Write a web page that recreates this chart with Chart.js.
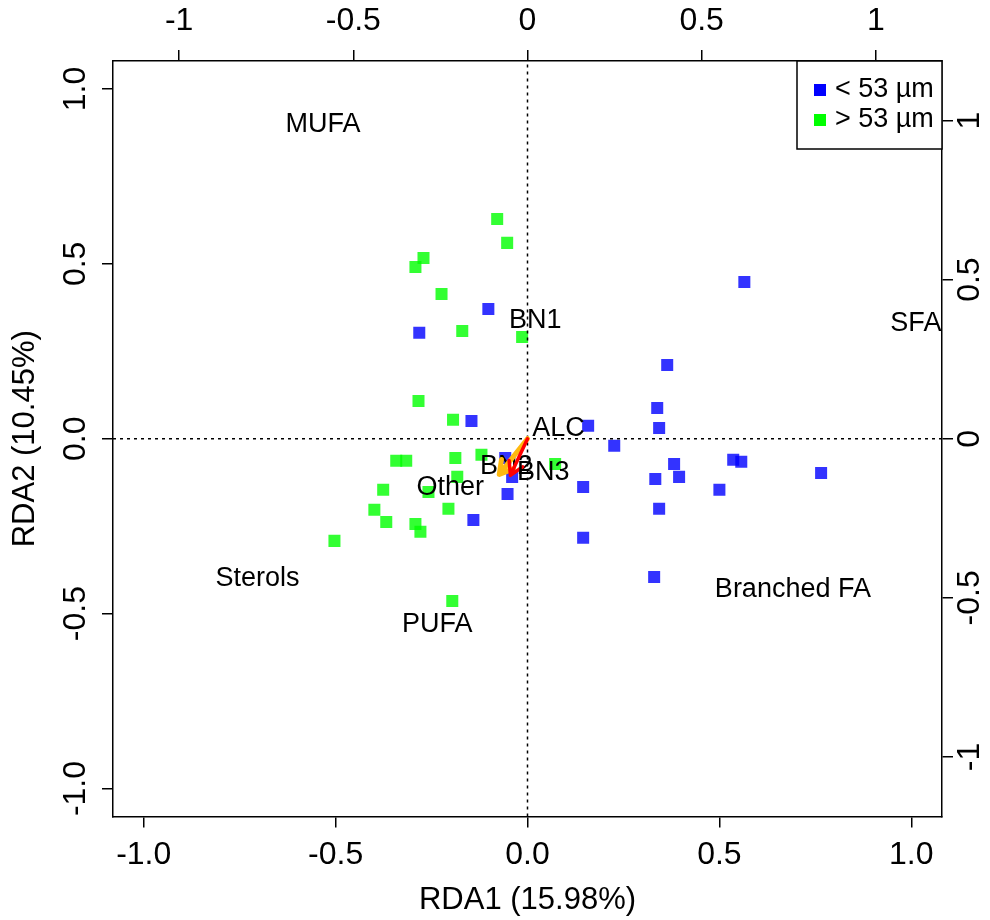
<!DOCTYPE html>
<html lang="en">
<head>
<meta charset="UTF-8">
<title>RDA biplot</title>
<script src="https://cdn.jsdelivr.net/npm/chart.js"></script>
<style>
  body { margin: 0; background: #fff; }
  #wrap { width: 990px; height: 920px; }
</style>
</head>
<body>
<div id="wrap"><canvas id="rdaChart" width="990" height="920"></canvas></div>
<script>
// site scores, < 53 µm fraction (bottom/left axis units)
const smallX = [-0.102, -0.282, -0.146, -0.058, -0.040, -0.052, -0.141, 0.565, 0.364, 0.338, 0.343, 0.158,
                0.226, 0.382, 0.333, 0.395, 0.536, 0.557, 0.765, 0.500, 0.145, 0.343, 0.145, 0.330];
const smallY = [0.371, 0.303, 0.051, -0.055, -0.109, -0.158, -0.232, 0.448, 0.211, 0.088, 0.031, 0.037,
                -0.020, -0.072, -0.115, -0.109, -0.060, -0.066, -0.098, -0.146, -0.138, -0.200, -0.283, -0.395];

// site scores, > 53 µm fraction
const largeX = [-0.079, -0.053, -0.271, -0.292, -0.224, -0.170, -0.014, -0.284, -0.194, -0.342, -0.316, -0.188,
                -0.120, -0.183, 0.072, -0.258, -0.376, -0.399, -0.206, -0.368, -0.292, -0.279, -0.503, -0.196];
const largeY = [0.628, 0.560, 0.517, 0.491, 0.414, 0.308, 0.291, 0.108, 0.054, -0.063, -0.063, -0.055,
                -0.046, -0.109, -0.072, -0.152, -0.146, -0.203, -0.200, -0.238, -0.244, -0.266, -0.292, -0.464];

const groupNames = ['< 53 µm', '> 53 µm'];

// variable labels (top/right axis units)
const varNames = ['MUFA', 'SFA', 'BN1', 'ALC', 'BN2', 'BN3', 'Other', 'Sterols', 'PUFA', 'Branched FA'];
const varX = [-0.587, 1.115, 0.022, 0.089, -0.061, 0.045, -0.222, -0.775, -0.259, 0.762];
const varY = [0.987, 0.363, 0.372, 0.033, -0.087, -0.106, -0.153, -0.440, -0.583, -0.473];

// fitted vectors drawn as arrows from the origin (top/right axis units)
const arrowX = [-0.081, -0.049];
const arrowY = [-0.112, -0.115];

// axis ticks
const ticksBottom = [-1.0, -0.5, 0.0, 0.5, 1.0];
const ticksBottomLabels = ['-1.0', '-0.5', '0.0', '0.5', '1.0'];
const ticksLeft = [-1.0, -0.5, 0.0, 0.5, 1.0];
const ticksLeftLabels = ['-1.0', '-0.5', '0.0', '0.5', '1.0'];
const ticksTop = [-1, -0.5, 0, 0.5, 1];
const ticksTopLabels = ['-1', '-0.5', '0', '0.5', '1'];
const ticksRight = [-1, -0.5, 0, 0.5, 1];
const ticksRightLabels = ['-1', '-0.5', '0', '0.5', '1'];

const xTitle = 'RDA1 (15.98%)';
const yTitle = 'RDA2 (10.45%)';

const FAMILY = '"Liberation Sans", Arial, sans-serif';
const FONT = '27px ' + FAMILY;
const AXIS_FONT = '32px ' + FAMILY;
const TITLE_FONT = '31px ' + FAMILY;
const groupColors = ['rgba(0,0,255,0.8)', 'rgba(0,255,0,0.8)'];
const legendColors = ['#0000ff', '#00ff00'];
const arrowColors = ['#ffb90f', '#ff0000'];
const arrowWidths = [5, 3.5];

function toPoints(xs, ys) {
    return xs.map((x, i) => ({ x: x, y: ys[i] }));
}

function axis(pos, min, max, vals, size) {
    return {
        type: 'linear',
        position: pos,
        axis: (pos === 'top' || pos === 'bottom') ? 'x' : 'y',
        min: min,
        max: max,
        afterBuildTicks: s => { s.ticks = vals.map(v => ({ value: v })); },
        afterFit: s => {
            if (pos === 'top' || pos === 'bottom') s.height = size; else s.width = size;
        },
        ticks: { display: false },
        grid: { display: true, drawOnChartArea: false, drawTicks: true, tickLength: 11, color: '#000', lineWidth: 1.5 },
        border: { display: true, color: '#000', width: 1.5 }
    };
}

function drawArrow(ctx, x0, y0, x1, y1, color, width) {
    const ang = Math.atan2(y1 - y0, x1 - x0);
    const head = 15;
    ctx.save();
    ctx.strokeStyle = color;
    ctx.lineWidth = width;
    ctx.lineCap = 'round';
    ctx.lineJoin = 'round';
    ctx.beginPath();
    ctx.moveTo(x0, y0);
    ctx.lineTo(x1, y1);
    ctx.moveTo(x1 - head * Math.cos(ang - Math.PI / 6), y1 - head * Math.sin(ang - Math.PI / 6));
    ctx.lineTo(x1, y1);
    ctx.lineTo(x1 - head * Math.cos(ang + Math.PI / 6), y1 - head * Math.sin(ang + Math.PI / 6));
    ctx.stroke();
    ctx.restore();
}

const biplotExtras = {
    id: 'biplotExtras',
    afterDatasetsDraw(chart) {
        const ctx = chart.ctx;
        const { x, y, x2, y2 } = chart.scales;
        const area = chart.chartArea;
        ctx.save();
        ctx.font = FONT;
        ctx.fillStyle = '#000';
        ctx.textAlign = 'center';
        ctx.textBaseline = 'middle';

        // BN2 label sits under the arrows, the rest on top
        const i2 = varNames.indexOf('BN2');
        ctx.fillText(varNames[i2], x2.getPixelForValue(varX[i2]), y2.getPixelForValue(varY[i2]));

        const ox = x2.getPixelForValue(0), oy = y2.getPixelForValue(0);
        arrowX.forEach((ax, i) => {
            drawArrow(ctx, ox, oy, x2.getPixelForValue(ax), y2.getPixelForValue(arrowY[i]), arrowColors[i], arrowWidths[i]);
        });

        ctx.font = FONT;
        ctx.fillStyle = '#000';
        varNames.forEach((n, i) => {
            if (i === i2) return;
            ctx.fillText(n, x2.getPixelForValue(varX[i]), y2.getPixelForValue(varY[i]));
        });

        // horizontal axis labels
        ctx.font = AXIS_FONT;
        ticksBottom.forEach((v, i) => ctx.fillText(ticksBottomLabels[i], x.getPixelForValue(v), 855));
        ticksTop.forEach((v, i) => ctx.fillText(ticksTopLabels[i], x2.getPixelForValue(v), 21));

        // vertical axis labels, rotated
        const rot = (txt, px, py) => {
            ctx.save();
            ctx.translate(px, py);
            ctx.rotate(-Math.PI / 2);
            ctx.fillText(txt, 0, 0);
            ctx.restore();
        };
        ticksLeft.forEach((v, i) => rot(ticksLeftLabels[i], 76, y.getPixelForValue(v)));
        ticksRight.forEach((v, i) => rot(ticksRightLabels[i], 970, y2.getPixelForValue(v)));

        ctx.font = TITLE_FONT;
        ctx.fillText(xTitle, (area.left + area.right) / 2, 900);
        rot(yTitle, 25, (area.top + area.bottom) / 2);

        // legend, top right corner of the plot box
        ctx.font = FONT;
        const L = area.right - 145, T = area.top;
        ctx.fillStyle = '#fff';
        ctx.fillRect(L, T, 145, 88);
        ctx.strokeStyle = '#000';
        ctx.lineWidth = 1.5;
        ctx.strokeRect(L, T, 145, 88);
        ctx.textAlign = 'left';
        groupNames.forEach((g, i) => {
            const cy = T + 29 + i * 30;
            ctx.fillStyle = legendColors[i];
            ctx.fillRect(L + 17, cy - 6, 12, 12);
            ctx.fillStyle = '#000';
            ctx.fillText(g, L + 38, cy);
        });
        ctx.restore();
    }
};

const pointStyle = { pointStyle: 'rect', pointRadius: 8.5, pointHoverRadius: 8.5, pointBorderWidth: 0 };

new Chart(document.getElementById('rdaChart'), {
    type: 'scatter',
    data: {
        datasets: [
            Object.assign({ label: groupNames[0], data: toPoints(smallX, smallY), backgroundColor: groupColors[0],
                            xAxisID: 'x', yAxisID: 'y', order: 3 }, pointStyle),
            Object.assign({ label: groupNames[1], data: toPoints(largeX, largeY), backgroundColor: groupColors[1],
                            xAxisID: 'x', yAxisID: 'y', order: 2 }, pointStyle),
            { type: 'line', data: [{ x: 0, y: -1.08 }, { x: 0, y: 1.08 }], borderColor: '#000', borderWidth: 1.5,
              borderDash: [3, 4], pointRadius: 0, xAxisID: 'x', yAxisID: 'y', order: 1 },
            { type: 'line', data: [{ x: -1.08, y: 0 }, { x: 1.08, y: 0 }], borderColor: '#000', borderWidth: 1.5,
              borderDash: [3, 4], pointRadius: 0, xAxisID: 'x', yAxisID: 'y', order: 1 }
        ]
    },
    options: {
        responsive: false,
        animation: false,
        layout: { padding: 0 },
        plugins: { legend: { display: false }, tooltip: { enabled: false } },
        scales: {
            x: axis('bottom', -1.08, 1.08, ticksBottom, 103.5),
            x2: axis('top', -1.19, 1.19, ticksTop, 61),
            y: axis('left', -1.08, 1.08, ticksLeft, 113),
            y2: axis('right', -1.187, 1.187, ticksRight, 48)
        }
    },
    plugins: [biplotExtras]
});
</script>
</body>
</html>
